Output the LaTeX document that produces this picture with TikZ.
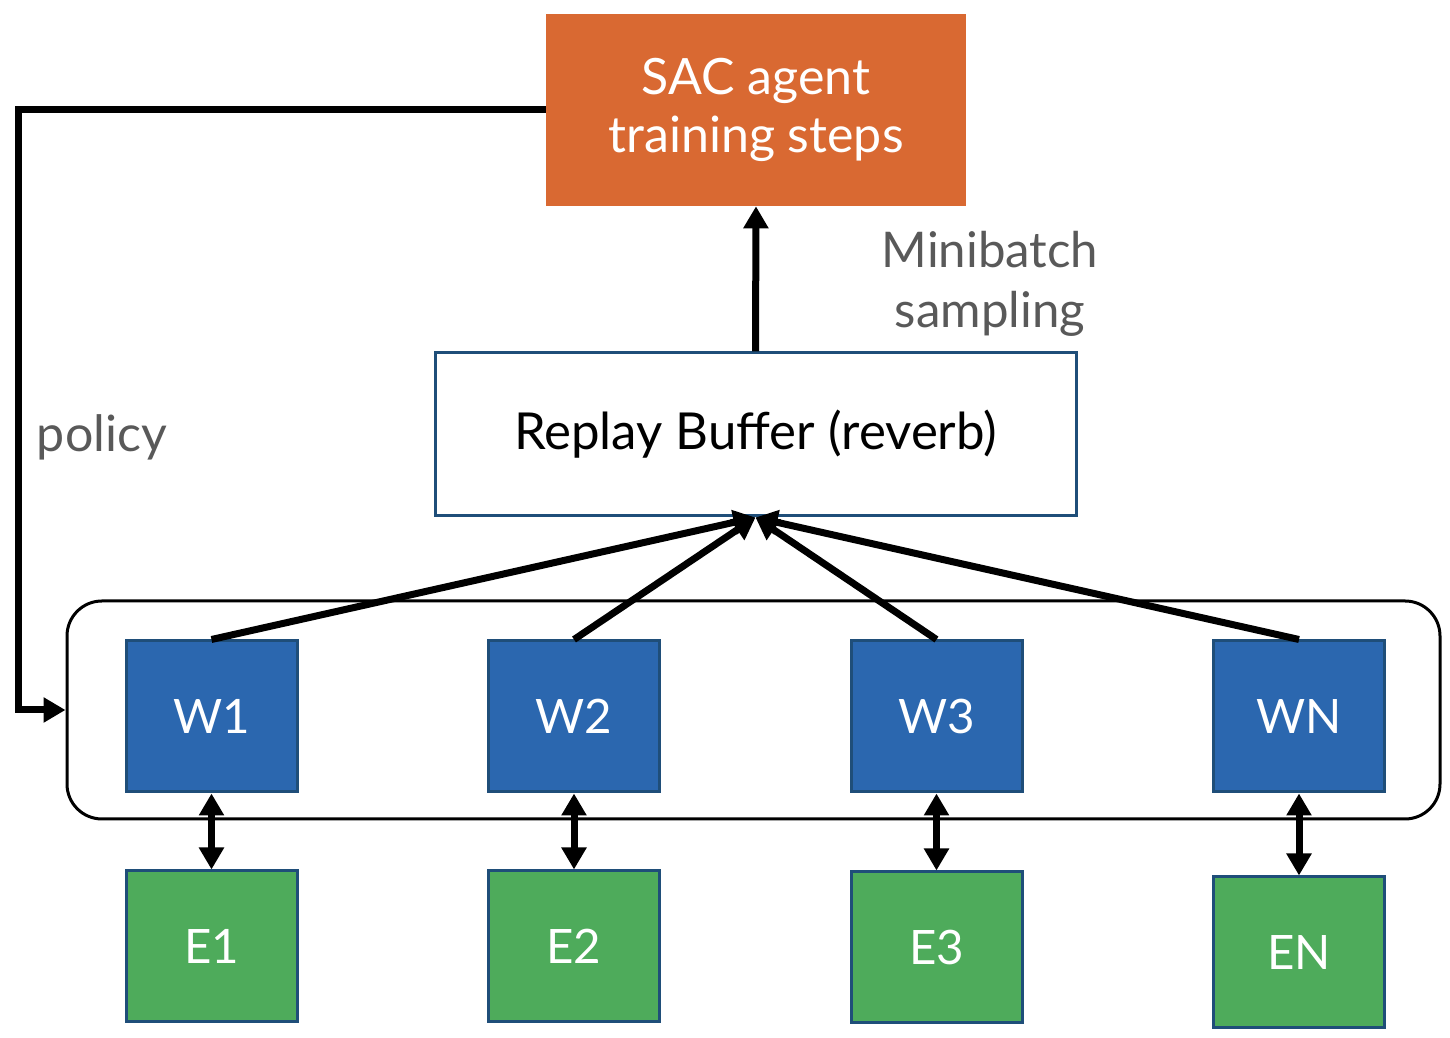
\documentclass[tikz,border=0pt]{standalone}
\usepackage{fontspec}
\setmainfont{Lato}
\usetikzlibrary{arrows.meta}
\definecolor{sacorange}{HTML}{D96932}
\definecolor{wblue}{HTML}{2B67AF}
\definecolor{eboxgreen}{HTML}{4EAB5B}
\definecolor{edgeblue}{HTML}{1F4E79}
\definecolor{labelgray}{HTML}{595959}
\tikzset{
  flow/.style={line width=0.14cm, -{Triangle[length=0.44cm,width=0.48cm]}},
  wbox/.style={draw=edgeblue, line width=0.06cm, fill=wblue, text=white,
    minimum width=3.42cm, minimum height=3.02cm, font=\fontsize{27}{32}\selectfont},
  ebox/.style={wbox, fill=eboxgreen},
}
\begin{document}
\begin{tikzpicture}
    \useasboundingbox (0,0) rectangle (29,20.76);

    \node[fill=sacorange, text=white, minimum width=8.4cm, minimum height=3.84cm,
      align=center, font=\fontsize{28.5}{33}\selectfont] (sac) at (15.12,18.56)
      {SAC agent\\training steps};
    \node[draw=edgeblue, line width=0.06cm, minimum width=12.82cm, minimum height=3.26cm,
      font=\fontsize{29}{33}\selectfont] (buffer) at (15.11,12.07)
      {Replay Buffer (reverb)};
    \node[draw, line width=0.06cm, rounded corners=0.7cm, minimum width=27.46cm,
      minimum height=4.36cm] (workers) at (15.07,6.56) {};

	\node[text=labelgray, align=center, font=\fontsize{28}{34}\selectfont] (minibatch)
	  at (19.8,15.08) {Minibatch\\sampling};
	\node[text=labelgray, font=\fontsize{28.5}{34}\selectfont] (policy) at (2.04,12.02) {policy};

	\foreach \i/\x/\ey in {1/4.23/1.83, 2/11.48/1.83, 3/18.73/1.81, N/25.98/1.71}{
	   \node[wbox] (w\i) at (\x,6.43) {W\i};
	   \node[ebox] (e\i) at (\x,\ey) {E\i};
	   \draw[flow] (w\i.north) -- (buffer.south);
	   \draw[flow, {Triangle[length=0.44cm,width=0.48cm]}-{Triangle[length=0.44cm,width=0.48cm]}]
	     (e\i.north) -- (w\i.south);
	}

	\draw[flow] (buffer.north) -- (sac.south);
	\coordinate (bend) at (0.36,18.56);
	\draw[flow] (sac.west) -- (bend) |- (workers.west);
    \end{tikzpicture}
\end{document}
